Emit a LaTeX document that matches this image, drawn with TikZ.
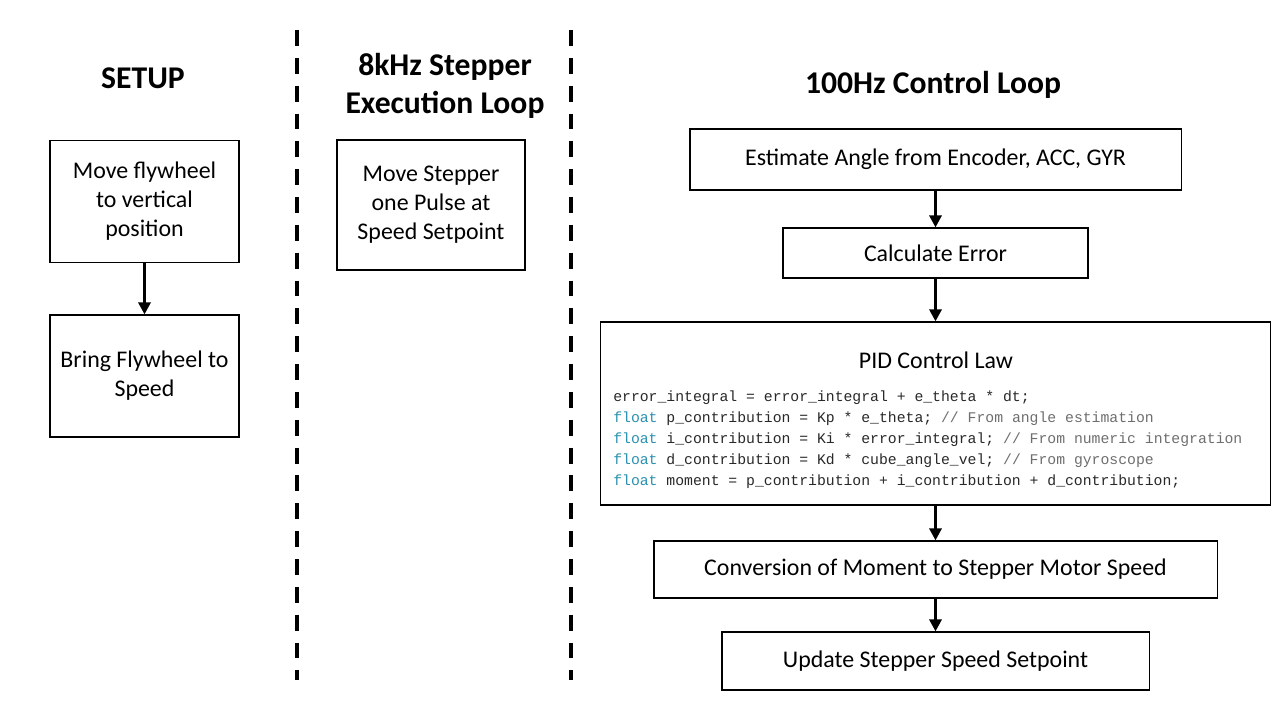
\documentclass[tikz,border=0pt]{standalone}
\usepackage{fontspec}
\setmainfont{Carlito}
\setmonofont{Liberation Mono}
\usetikzlibrary{arrows.meta,positioning}
\definecolor{kwteal}{RGB}{43,145,175}
\definecolor{cmtgray}{RGB}{110,110,110}
\definecolor{codeink}{RGB}{40,40,40}
\newcommand{\kw}[1]{\textcolor{kwteal}{#1}}
\newcommand{\cmt}[1]{\textcolor{cmtgray}{#1}}

\begin{document}
\begin{tikzpicture}[x=0.025cm, y=-0.025cm, every node/.style={font=\fontsize{17}{20.6}\selectfont}, blk/.style={draw, line width=0.8pt, align=center, inner sep=0pt}, hdr/.style={font=\fontsize{22.5}{27}\selectfont\bfseries, align=center}, arr/.style={line width=2.6pt, -{Triangle[length=8.5pt, width=8.5pt]}}, sep/.style={line width=2.8pt, dash pattern=on 11.3pt off 8.5pt}]
	\useasboundingbox (0,0) rectangle (1280,720);
	% column headers
	\node[hdr] (hsetup) at (143,78) {SETUP};
	\node[hdr] (hstep) at (445,86) {8kHz Stepper\\Execution Loop};
	\node[hdr] (hctrl) at (933,85) {100Hz Control Loop};
	\draw[sep] (297,30) -- (297,680);
	\draw[sep] (571,30) -- (571,680);
	% setup
	\node[blk, minimum width=4.725cm, minimum height=3.05cm] (setup1) at (144.5,201.5) {Move flywheel\\to vertical\\position};
	\node[blk, minimum width=4.725cm, minimum height=3.05cm] (setup2) at (144.5,376) {Bring Flywheel to\\Speed};
	\draw[arr] (setup1) -- (setup2);
	% stepper loop
	\node[blk, minimum width=4.7cm, minimum height=3.25cm] (pulse) at (431,205) {Move Stepper\\one Pulse at\\Speed Setpoint};
	% control loop
	\node[blk, minimum width=12.275cm, minimum height=1.525cm] (est) at (935.5,159.5) {Estimate Angle from Encoder, ACC, GYR};
	\node[blk, minimum width=7.625cm, minimum height=1.25cm] (err) at (935.5,253) {Calculate Error};
	\node[blk, minimum width=16.725cm, minimum height=4.575cm] (pid) at (935.5,413.5) {};
	\node (pidtitle) at (936,360) {PID Control Law};
	\node[anchor=west, align=left, inner sep=0pt, text=codeink, font=\fontsize{10.5}{14.9}\selectfont\ttfamily] (pidcode) at (613,440) {error\_integral = error\_integral + e\_theta * dt;\\
		\kw{float} p\_contribution = Kp * e\_theta; \cmt{// From angle estimation}\\
		\kw{float} i\_contribution = Ki * error\_integral; \cmt{// From numeric integration}\\
		\kw{float} d\_contribution = Kd * cube\_angle\_vel; \cmt{// From gyroscope}\\
		\kw{float} moment = p\_contribution + i\_contribution + d\_contribution;};
	\node[blk, minimum width=14.075cm, minimum height=1.425cm] (conv) at (935.5,569.5) {Conversion of Moment to Stepper Motor Speed};
	\node[blk, minimum width=10.675cm, minimum height=1.45cm] (upd) at (935.5,661) {Update Stepper Speed Setpoint};
	\draw[arr] (est) -- (err);
	\draw[arr] (err) -- (pid);
	\draw[arr] (pid) -- (conv);
	\draw[arr] (conv) -- (upd);
\end{tikzpicture}
\end{document}
